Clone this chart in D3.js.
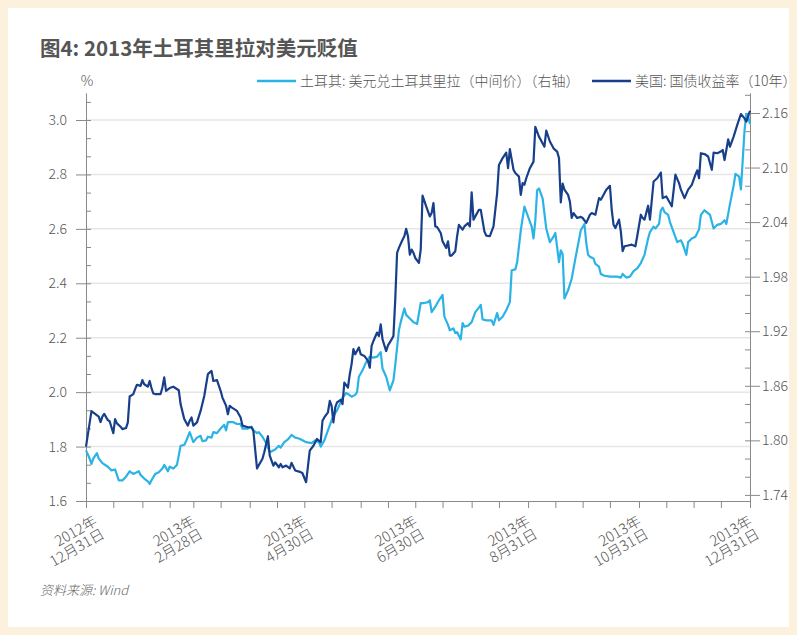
<!DOCTYPE html>
<html><head><meta charset="utf-8">
<script src="https://cdn.jsdelivr.net/npm/d3@7"></script>
<style>body{margin:0;background:#fbf1dc;}svg{display:block}</style>
</head><body><svg id="c" width="797" height="635"></svg>
<script>
// ---- data (days since 2012-12-31) ----
const usDays = [0,3,5,7,8,9,10,12,13,14,15,16,17,19,20,22,23,24,26,27,28,30,31,32,34,35,36,37,38,41,42,43,44,46,48,51,52,54,56,57,58,59,61,63,65,67,69,70,72,74,75,77,78,79,80,83,85,86,89,91,92,94,97,98,100,101,103,104,106,107,108,110,112,113,115,118,119,121,123,125,127,129,130,131,133,134,135,136,137,138,140,141,142,144,145,146,147,148,150,151,153,155,156,157,158,160,161,162,163,165,166,168,169,170,171,172,174,175,176,177,178,179,180,181,183,184,185,187,189,190,191,192,193,195,196,198,199,200,201,203,204,205,207,208,210,211,212,213,214,216,217,219,220,222,224,226,227,229,231,232,233,235,236,238,239,240,241,242,244,246,247,249,252,253,255,257,259,260,261,262,263,265,266,267,268,270,272,273,275,277,278,280,282,283,284,286,288,289,290,291,293,294,295,296,298,300,302,303,305,306,307,309,310,312,314,316,317,319,321,322,324,326,327,329,331,333,335,336,337,338,340,342,344,345,347,349,350,351,352,353,354,356,358,360,362,363,365];
const usYield = [1.80,1.93,1.92,1.91,1.89,1.91,1.92,1.897,1.893,1.871,1.849,1.901,1.885,1.873,1.864,1.868,1.889,1.984,1.993,2.011,2.027,2.023,2.044,2.029,2.020,2.041,2.015,1.995,1.993,1.993,2.017,2.054,2.005,2.015,2.020,2.007,1.956,1.901,1.877,1.895,1.907,1.877,1.889,1.931,1.986,2.066,2.078,2.041,2.044,2.005,1.980,1.950,1.919,1.950,1.944,1.931,1.907,1.877,1.871,1.871,1.858,1.720,1.755,1.779,1.838,1.767,1.730,1.742,1.724,1.736,1.724,1.730,1.720,1.740,1.712,1.706,1.702,1.669,1.785,1.803,1.828,1.816,1.895,1.907,1.926,1.968,1.950,1.889,1.944,1.962,1.972,1.956,2.035,2.017,2.066,2.103,2.158,2.139,2.164,2.139,2.133,2.115,2.090,2.170,2.188,2.219,2.206,2.249,2.194,2.151,2.172,2.194,2.206,2.341,2.512,2.530,2.560,2.573,2.600,2.573,2.505,2.524,2.512,2.493,2.475,2.524,2.722,2.683,2.646,2.658,2.695,2.609,2.607,2.585,2.554,2.530,2.554,2.502,2.502,2.518,2.573,2.615,2.597,2.609,2.621,2.609,2.734,2.634,2.646,2.670,2.670,2.591,2.575,2.573,2.609,2.731,2.835,2.860,2.880,2.823,2.893,2.817,2.805,2.792,2.725,2.768,2.762,2.786,2.823,2.847,2.975,2.939,2.902,2.961,2.921,2.896,2.884,2.860,2.697,2.766,2.744,2.725,2.70,2.64,2.658,2.640,2.644,2.640,2.622,2.652,2.658,2.652,2.713,2.707,2.719,2.744,2.758,2.670,2.615,2.603,2.634,2.591,2.518,2.536,2.539,2.542,2.536,2.573,2.652,2.640,2.634,2.685,2.634,2.774,2.786,2.807,2.713,2.719,2.695,2.683,2.799,2.768,2.744,2.713,2.744,2.762,2.799,2.815,2.786,2.878,2.875,2.866,2.817,2.880,2.878,2.884,2.890,2.853,2.890,2.929,2.902,2.939,2.982,3.022,3.006,2.994,3.034];
const tryDays = [0,2,3,4,6,7,9,12,14,16,18,20,22,24,26,28,29,30,32,34,35,36,38,40,42,43,45,46,48,49,50,52,54,55,57,59,61,63,64,66,67,69,70,72,74,76,77,78,81,83,85,86,89,91,92,94,95,97,99,101,104,106,107,109,111,113,115,117,119,121,124,126,128,129,131,133,135,137,138,140,141,143,144,146,148,149,150,152,154,156,158,160,162,163,165,167,169,170,172,173,175,176,178,180,182,184,186,188,189,190,192,194,196,197,199,200,202,203,204,206,207,208,210,212,214,216,217,218,220,223,224,226,227,229,231,233,234,236,237,239,241,243,245,246,247,248,249,251,253,255,257,258,260,261,262,263,265,267,269,272,274,275,276,277,279,280,282,283,285,288,292,294,295,297,299,301,303,305,307,309,310,312,313,315,316,317,318,320,321,323,325,327,328,330,331,333,335,337,338,340,343,345,347,349,351,352,354,356,357,359,360,361,362,363,364,365];
const tryRate = [1.789,1.780,1.774,1.780,1.786,1.780,1.775,1.771,1.767,1.768,1.756,1.756,1.760,1.766,1.763,1.765,1.766,1.762,1.758,1.755,1.752,1.756,1.763,1.765,1.769,1.773,1.766,1.771,1.769,1.771,1.773,1.794,1.795,1.799,1.809,1.798,1.803,1.805,1.799,1.800,1.804,1.803,1.809,1.808,1.813,1.817,1.811,1.820,1.820,1.818,1.818,1.813,1.813,1.815,1.811,1.808,1.809,1.804,1.797,1.787,1.790,1.794,1.792,1.798,1.801,1.806,1.803,1.802,1.800,1.798,1.797,1.800,1.798,1.793,1.800,1.811,1.822,1.830,1.833,1.842,1.847,1.852,1.851,1.848,1.850,1.853,1.870,1.877,1.886,1.892,1.891,1.892,1.897,1.879,1.870,1.855,1.866,1.883,1.921,1.930,1.945,1.938,1.934,1.930,1.928,1.951,1.951,1.952,1.954,1.941,1.947,1.954,1.960,1.936,1.927,1.921,1.923,1.918,1.919,1.911,1.929,1.925,1.926,1.930,1.941,1.946,1.949,1.933,1.932,1.932,1.927,1.940,1.932,1.936,1.943,1.952,1.987,1.988,1.996,2.031,2.057,2.046,2.035,2.022,2.042,2.075,2.077,2.066,2.033,2.018,2.024,2.028,1.996,2.009,2.005,1.956,1.965,1.978,2.000,2.031,2.038,2.017,2.004,2.002,2.000,1.994,1.991,1.983,1.981,1.980,1.980,1.979,1.983,1.979,1.980,1.986,1.989,1.995,2.004,2.022,2.029,2.035,2.033,2.038,2.053,2.056,2.051,2.048,2.040,2.029,2.018,2.020,2.016,2.004,2.018,2.022,2.024,2.032,2.048,2.053,2.048,2.033,2.037,2.038,2.042,2.038,2.060,2.080,2.093,2.090,2.076,2.108,2.141,2.159,2.156,2.148];
const leftTicks = [1.6,1.8,2.0,2.2,2.4,2.6,2.8,3.0];
const rightTicks = [1.74,1.80,1.86,1.92,1.98,2.04,2.10,2.16];
const xLabelDates = ["2012-12-31","2013-02-28","2013-04-30","2013-06-30","2013-08-31","2013-10-31","2013-12-31"];
const xLabelYears = ["2012年","2013年","2013年","2013年","2013年","2013年","2013年"];
const xLabelDays = ["12月31日","2月28日","4月30日","6月30日","8月31日","10月31日","12月31日"];
const titleText = "图4: 2013年土耳其里拉对美元贬值";
const legendNames = ["土耳其: 美元兑土耳其里拉（中间价）（右轴）","美国: 国债收益率（10年）"];
const sourceText = "资料来源: Wind";

// ---- drawing ----
const svg = d3.select("#c");
const FONT = "'Noto Sans CJK SC','Liberation Sans',sans-serif";
const C_LIGHT = "#2bb3e6", C_DARK = "#173f8a", AX = "#8a8a8a", TXT = "#555";
const toDate = d => new Date(2012, 11, 31 + d);
const parse = s => { const [y,m,d] = s.split("-").map(Number); return new Date(y, m-1, d); };

svg.append("rect").attr("width",797).attr("height",635).attr("fill","#fbf1dc");
svg.append("rect").attr("x",8).attr("y",8).attr("width",781).attr("height",619).attr("fill","#fff");

const x = d3.scaleTime().domain([toDate(0), toDate(365)]).range([86, 750]);
const yL = d3.scaleLinear().domain([1.6, 3.1]).range([501, 92.8]);
const yR = d3.scaleLinear().domain([1.7333, 2.1822]).range([501, 92.8]);

// grid
svg.append("g").selectAll("line").data(leftTicks.filter(v => v > 1.6)).join("line")
  .attr("x1",86).attr("x2",750).attr("y1",d=>yL(d)).attr("y2",d=>yL(d))
  .attr("stroke","#e6e6e6").attr("stroke-width",1.5);

function styleAxis(g){
  g.selectAll("path.domain").attr("stroke",AX);
  g.selectAll(".tick line").attr("stroke",AX);
  g.selectAll("text").attr("fill",TXT).attr("font-family",FONT).attr("font-size",14).attr("font-weight",300);
}
// left axis
const leftMinor = d3.range(0, 23).map(i => 1.6 + i*0.2/3).filter(v => v < 3.1);
svg.append("g").attr("transform","translate(86,0)")
  .call(d3.axisLeft(yL).tickValues(leftMinor).tickSize(-5).tickFormat(""))
  .call(g=>g.select(".domain").remove()).call(styleAxis);
svg.append("g").attr("transform","translate(86,0)")
  .call(d3.axisLeft(yL).tickValues(leftTicks).tickSize(10).tickSizeOuter(0).tickPadding(9).tickFormat(d3.format(".1f")))
  .call(styleAxis);
// right axis
const rightMinor = d3.range(0, 23).map(i => 1.74 + i*0.02).filter(v => v < 2.182);
svg.append("g").attr("transform","translate(750,0)")
  .call(d3.axisRight(yR).tickValues(rightMinor).tickSize(-5).tickFormat(""))
  .call(g=>g.select(".domain").remove()).call(styleAxis);
svg.append("g").attr("transform","translate(750,0)")
  .call(d3.axisRight(yR).tickValues(rightTicks).tickSize(10).tickSizeOuter(0).tickPadding(2).tickFormat(d3.format(".2f")))
  .call(styleAxis);
// x axis
const xTicks = [toDate(0)];
for (let m = 0; m < 12; m++) { xTicks.push(new Date(2013, m, 15)); xTicks.push(new Date(2013, m+1, 0)); }
svg.append("g").attr("transform","translate(0,501)")
  .call(d3.axisBottom(x).tickValues(xTicks).tickSize(7).tickSizeOuter(0).tickFormat(""))
  .call(styleAxis);
const lab = svg.append("g").selectAll("g").data(xLabelDates).join("g")
  .attr("transform", (d,i) => `translate(${x(parse(d)) + (i === 0 ? 12 : 3)},524) rotate(-30)`)
  .attr("font-family",FONT).attr("font-size",14.5).attr("font-weight",300).attr("fill",TXT).attr("text-anchor","end");
lab.append("text").text((d,i)=>xLabelYears[i]);
lab.append("text").attr("y",15).text((d,i)=>xLabelDays[i]);

// lines
const lineL = d3.line().x(d=>x(toDate(d[0]))).y(d=>yL(d[1]));
const lineR = d3.line().x(d=>x(toDate(d[0]))).y(d=>yR(d[1]));
svg.append("path").datum(tryDays.map((d,i)=>[d,tryRate[i]])).attr("d",lineR)
  .attr("fill","none").attr("stroke",C_LIGHT).attr("stroke-width",2.2).attr("stroke-linejoin","round");
svg.append("path").datum(usDays.map((d,i)=>[d,usYield[i]])).attr("d",lineL)
  .attr("fill","none").attr("stroke",C_DARK).attr("stroke-width",2.2).attr("stroke-linejoin","round");

// title, unit, legend, source
svg.append("text").attr("x",40).attr("y",56).text(titleText)
  .attr("font-family",FONT).attr("font-size",20.5).attr("font-weight",700).attr("fill","#555");
svg.append("text").attr("x",87).attr("y",86).attr("text-anchor","middle").text("%")
  .attr("font-family",FONT).attr("font-size",14).attr("font-weight",300).attr("fill",TXT);
const legX = [257, 592], legC = [C_LIGHT, C_DARK];
legendNames.forEach((n,i)=>{
  svg.append("line").attr("x1",legX[i]).attr("x2",legX[i]+39).attr("y1",81).attr("y2",81)
    .attr("stroke",legC[i]).attr("stroke-width",2.5);
  svg.append("text").attr("x",legX[i]+43).attr("y",86).text(n)
    .attr("font-family",FONT).attr("font-size",14).attr("font-weight",300).attr("fill",TXT);
});
svg.append("text").attr("x",40).attr("y",595).text(sourceText)
  .attr("font-family",FONT).attr("font-size",13).attr("font-style","italic").attr("font-weight",300).attr("fill","#666");
</script></body></html>
